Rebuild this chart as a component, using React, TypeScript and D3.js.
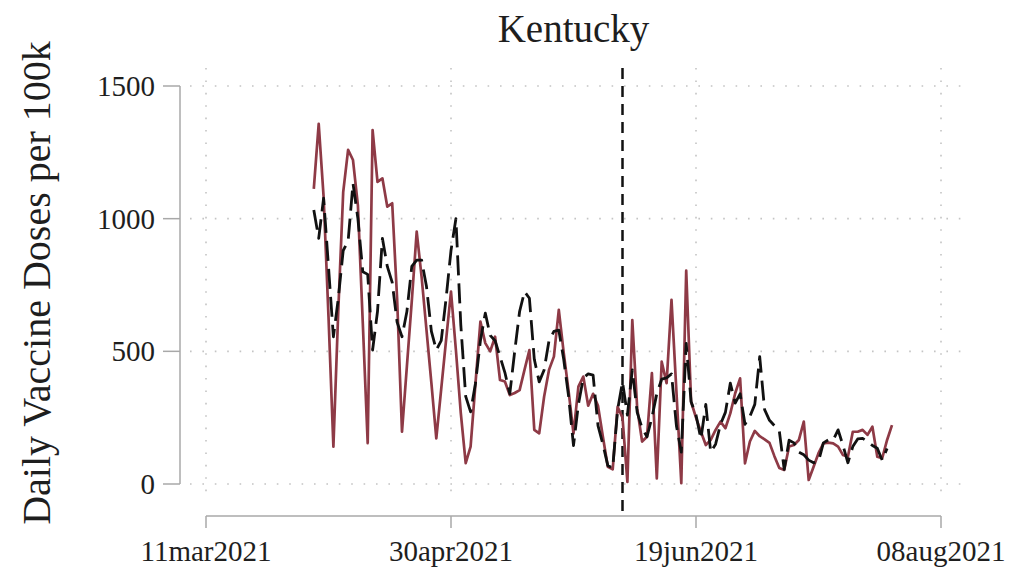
import React from "react";
import * as d3 from "d3";

const chartTitle = "Kentucky";
const yAxisTitle = "Daily Vaccine Doses per 100k";
const xTickDates = ["2021-03-11", "2021-04-30", "2021-06-19", "2021-08-08"];
const xTickLabels = ["11mar2021", "30apr2021", "19jun2021", "08aug2021"];
const yTickValues = [0, 500, 1000, 1500];
const seriesStartDate = "2021-04-02";
const policyDate = "2021-06-04";

// Kentucky (solid red), daily from 2021-04-02
const kentuckyDoses = [
  1112, 1357, 1083, 631, 141, 656, 1100, 1259, 1221, 1050,
  606, 154, 1334, 1139, 1152, 1045, 1058, 700, 197, 444,
  690, 951, 781, 580, 380, 172, 358, 543, 725, 505,
  267, 79, 141, 380, 612, 531, 500, 555, 392, 386,
  335, 343, 354, 430, 505, 204, 191, 329, 430, 480,
  656, 495, 350, 190, 367, 405, 295, 340, 295, 178,
  65, 55, 291, 250, 8, 618, 285, 160, 178, 418,
  21, 461, 380, 694, 350, 3, 804, 310, 250, 197,
  147, 166, 204, 235, 210, 266, 342, 398, 78, 160,
  200, 180, 168, 155, 105, 60, 53, 141, 147, 166,
  235, 15, 65, 116, 153, 156, 153, 141, 109, 103,
  197, 197, 204, 185, 216, 103, 97, 166, 222,
];

// Synthetic comparison (black dashed), daily from 2021-04-02
const syntheticDoses = [
  1033, 926, 1077, 819, 555, 700, 880, 915, 1133, 1000,
  800, 790, 505, 650, 926, 820, 760, 610, 555, 650,
  820, 844, 844, 744, 575, 505, 540, 700, 880, 1000,
  600, 330, 272, 380, 540, 644, 560, 540, 480, 420,
  340, 500, 650, 725, 700, 470, 385, 430, 540, 575,
  580, 470, 330, 145, 300, 400, 415, 410, 220, 150,
  70, 60, 280, 385, 260, 430, 270, 210, 178, 250,
  340, 395, 400, 415, 220, 120, 530, 310, 260, 170,
  300, 120, 150, 225, 270, 380, 305, 340, 225, 255,
  300, 480, 280, 240, 220, 200, 55, 165, 155, 120,
  110, 90, 80, 85, 155, 166, 166, 204, 145, 80,
  141, 170, 172, 160, 145, 135, 90, 134,
];

const parse = d3.utcParse("%Y-%m-%d");
const FONT = "'Liberation Serif', 'Times New Roman', serif";

export default function App() {
  const W = 1011;
  const H = 570;
  const x = d3
    .scaleUtc()
    .domain([parse(xTickDates[0]) as Date, parse(xTickDates[3]) as Date])
    .range([206, 941]);
  const y = d3.scaleLinear().domain([0, 1500]).range([484, 86]);
  const start = parse(seriesStartDate) as Date;
  const toPts = (arr: number[]) =>
    arr.map((v, i) => [x(d3.utcDay.offset(start, i)), y(v)] as [number, number]);
  const redPts = toPts(kentuckyDoses);
  const blkPts = toPts(syntheticDoses);
  const line = d3.line();
  const gridColor = "#c4c4c4";
  const axisColor = "#a8a8a8";
  const textColor = "#1e1e1e";
  const px = x(parse(policyDate) as Date);

  return (
    <svg
      width={W}
      height={H}
      style={{ position: "fixed", left: 0, top: 0, background: "#fff" }}
    >
      <rect x={0} y={0} width={W} height={H} fill="#fff" />
      {/* grid */}
      {yTickValues.map((v) => (
        <line
          key={"gy" + v}
          x1={190}
          x2={967}
          y1={y(v)}
          y2={y(v)}
          stroke={gridColor}
          strokeWidth={1.6}
          strokeDasharray="1.6 10.8"
        />
      ))}
      {xTickDates.map((d) => (
        <line
          key={"gx" + d}
          x1={x(parse(d) as Date)}
          x2={x(parse(d) as Date)}
          y1={68}
          y2={502}
          stroke={gridColor}
          strokeWidth={1.6}
          strokeDasharray="1.6 10.8"
        />
      ))}
      {/* y axis */}
      <line x1={180} x2={180} y1={y(1500)} y2={y(0)} stroke={axisColor} strokeWidth={1.5} />
      {yTickValues.map((v) => (
        <g key={"yt" + v}>
          <line x1={163} x2={180} y1={y(v)} y2={y(v)} stroke={axisColor} strokeWidth={1.5} />
          <text
            x={155}
            y={y(v) + 10}
            textAnchor="end"
            fontFamily={FONT}
            fontSize={29}
            fill={textColor}
          >
            {v}
          </text>
        </g>
      ))}
      {/* x axis */}
      <line x1={x(parse(xTickDates[0]) as Date)} x2={x(parse(xTickDates[3]) as Date)} y1={516} y2={516} stroke={axisColor} strokeWidth={1.5} />
      {xTickDates.map((d, i) => (
        <g key={"xt" + d}>
          <line
            x1={x(parse(d) as Date)}
            x2={x(parse(d) as Date)}
            y1={516}
            y2={528}
            stroke={axisColor}
            strokeWidth={1.5}
          />
          <text
            x={x(parse(d) as Date)}
            y={561}
            textAnchor="middle"
            fontFamily={FONT}
            fontSize={29}
            fill={textColor}
          >
            {xTickLabels[i]}
          </text>
        </g>
      ))}
      {/* policy line */}
      <line
        x1={px}
        x2={px}
        y1={68}
        y2={514}
        stroke="#111"
        strokeWidth={2.5}
        strokeDasharray="11 7"
      />
      {/* red series */}
      <path
        d={line(redPts) || ""}
        fill="none"
        stroke="#8e3a46"
        strokeWidth={2.7}
        strokeLinejoin="round"
      />
      {/* black dashed series */}
      <path
        d={line(blkPts) || ""}
        fill="none"
        stroke="#111"
        strokeWidth={2.8}
        strokeLinejoin="round"
        strokeDasharray="20 8"
      />
      {/* titles */}
      <text
        x={(x(parse(xTickDates[0]) as Date) + x(parse(xTickDates[3]) as Date)) / 2}
        y={42}
        textAnchor="middle"
        fontFamily={FONT}
        fontSize={39}
        fill={textColor}
      >
        {chartTitle}
      </text>
      <text
        transform={`translate(50,283) rotate(-90)`}
        textAnchor="middle"
        fontFamily={FONT}
        fontSize={40}
        fill={textColor}
      >
        {yAxisTitle}
      </text>
    </svg>
  );
}
